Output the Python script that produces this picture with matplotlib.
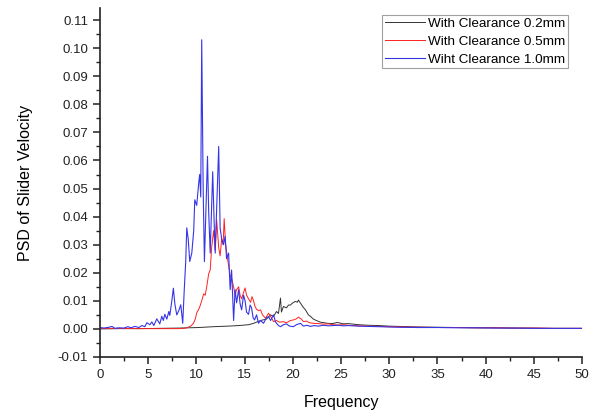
import matplotlib
matplotlib.use('Agg')
import matplotlib.pyplot as plt
from matplotlib.ticker import MultipleLocator, FormatStrFormatter

plt.rcParams['font.family'] = ['Liberation Sans', 'DejaVu Sans']
plt.rcParams['axes.unicode_minus'] = False

# frequency (Hz) and PSD values for each clearance
freq_02 = [0, 2, 4, 6.1, 8.17, 10.24, 11.79, 13.34, 14.38, 15.41, 15.93, 16.65, 17.27, 17.69,
           18.0, 18.31, 18.51, 18.72, 18.82, 19.03, 19.34, 19.55, 19.75, 19.96, 20.27, 20.48,
           20.58, 20.79, 21.1, 21.31, 21.62, 21.82, 22.13, 22.44, 22.86, 23.27, 23.58, 24.1,
           24.62, 25.24, 25.75, 26.8, 27.8, 28.9, 29.9, 31, 33, 35, 37, 39, 41, 43, 45, 47,
           49, 50]
psd_02 = [0.0, 0.0001, 0.0001, 0.0002, 0.0003, 0.0005, 0.0008, 0.0010, 0.0012, 0.0015,
          0.0020, 0.0030, 0.0035, 0.0050, 0.0045, 0.0062, 0.0055, 0.0110, 0.0060, 0.0080,
          0.0075, 0.0085, 0.0085, 0.0092, 0.0098, 0.0095, 0.0103, 0.0092, 0.0076, 0.0068,
          0.0050, 0.0045, 0.0035, 0.0030, 0.0024, 0.0022, 0.0020, 0.0019, 0.0023, 0.0018,
          0.0019, 0.0015, 0.0013, 0.0012, 0.0010, 0.0009, 0.0007, 0.0006, 0.0005, 0.0004,
          0.0004, 0.0003, 0.0003, 0.0002, 0.0002, 0.0002]

freq_05 = [0, 2, 4, 6.1, 7.14, 8.17, 8.69, 9.0, 9.41, 9.69, 9.88, 10.03, 10.24, 10.38, 10.55,
           10.76, 10.91, 11.07, 11.27, 11.43, 11.58, 11.79, 11.95, 12.1, 12.31, 12.46, 12.62,
           12.77, 12.88, 13.03, 13.19, 13.34, 13.5, 13.65, 13.86, 14.01, 14.17, 14.38, 14.53,
           14.69, 14.89, 15.05, 15.2, 15.41, 15.62, 15.77, 15.93, 16.08, 16.24, 16.44, 16.65,
           16.86, 17.17, 17.48, 17.69, 18.0, 18.31, 18.62, 19.03, 19.34, 19.75, 20.06, 20.37,
           20.58, 20.89, 21.1, 21.41, 21.72, 22.13, 22.65, 23.17, 23.68, 24.2, 24.72, 25.24,
           25.75, 26.8, 27.8, 28.9, 29.9, 31, 33, 35, 37, 39, 41, 43, 45, 47, 49, 50]
psd_05 = [0.0002, 0.0002, 0.0001, 0.0001, 0.0001, 0.0001, 0.0002, 0.0004, 0.0010, 0.0020,
          0.0035, 0.0057, 0.0070, 0.0082, 0.0100, 0.0125, 0.0120, 0.0150, 0.0196, 0.0210,
          0.0290, 0.0350, 0.0280, 0.0389, 0.0290, 0.0260, 0.0320, 0.0300, 0.0393, 0.0300,
          0.0260, 0.0225, 0.0190, 0.0180, 0.0150, 0.0120, 0.0140, 0.0150, 0.0120, 0.0107,
          0.0130, 0.0146, 0.0120, 0.0107, 0.0095, 0.0115, 0.0100, 0.0080, 0.0070, 0.0065,
          0.0068, 0.0050, 0.0038, 0.0056, 0.0045, 0.0026, 0.0030, 0.0024, 0.0026, 0.0022,
          0.0030, 0.0032, 0.0036, 0.0042, 0.0035, 0.0026, 0.0028, 0.0022, 0.0020, 0.0019,
          0.0017, 0.0018, 0.0015, 0.0014, 0.0015, 0.0013, 0.0011, 0.0010, 0.0009, 0.0008,
          0.0007, 0.0006, 0.0005, 0.0005, 0.0004, 0.0004, 0.0003, 0.0003, 0.0002, 0.0002,
          0.0002]

freq_10 = [0, 0.41, 0.93, 1.24, 1.55, 1.96, 2.48, 2.9, 3.21, 3.62, 4.03, 4.34, 4.65, 4.86,
           5.17, 5.38, 5.58, 5.89, 6.2, 6.41, 6.57, 6.72, 6.93, 7.14, 7.24, 7.45, 7.61, 7.76,
           7.96, 8.17, 8.38, 8.58, 8.74, 8.89, 9.0, 9.15, 9.31, 9.52, 9.72, 9.83, 10.03, 10.24,
           10.34, 10.45, 10.55, 10.7, 10.83, 11.15, 11.27, 11.43, 11.69, 11.84, 11.95, 12.31,
           12.46, 12.62, 12.82, 12.98, 13.13, 13.34, 13.5, 13.65, 13.86, 14.01, 14.17, 14.38,
           14.53, 14.69, 14.89, 15.05, 15.2, 15.41, 15.57, 15.72, 15.88, 16.03, 16.24, 16.44,
           16.65, 16.96, 17.27, 17.48, 17.69, 18.0, 18.2, 18.51, 18.72, 19.03, 19.34, 19.65,
           20.06, 20.37, 20.79, 21.1, 21.46, 21.82, 22.24, 22.65, 23.17, 23.68, 24.2, 24.72,
           25.24, 25.75, 26.8, 27.8, 28.9, 29.9, 31, 33, 35, 37, 39, 41, 43, 45, 47, 49, 50]
psd_10 = [0.0005, 0.0003, 0.0006, 0.0009, 0.0002, 0.0004, 0.0003, 0.0008, 0.0004, 0.0009,
          0.0005, 0.0012, 0.0008, 0.0022, 0.0015, 0.0025, 0.0012, 0.0036, 0.0018, 0.0045,
          0.0030, 0.0052, 0.0035, 0.0062, 0.0048, 0.0100, 0.0145, 0.0090, 0.0050, 0.0065,
          0.0086, 0.0020, 0.0140, 0.0240, 0.0360, 0.0320, 0.0240, 0.0270, 0.0350, 0.0460,
          0.0440, 0.0520, 0.0550, 0.0470, 0.1030, 0.0500, 0.0240, 0.0615, 0.0420, 0.0270,
          0.0560, 0.0380, 0.0270, 0.0650, 0.0360, 0.0320, 0.0300, 0.0330, 0.0250, 0.0270,
          0.0140, 0.0210, 0.0030, 0.0140, 0.0093, 0.0140, 0.0090, 0.0068, 0.0120, 0.0100,
          0.0060, 0.0052, 0.0085, 0.0075, 0.0040, 0.0032, 0.0050, 0.0020, 0.0030, 0.0020,
          0.0040, 0.0044, 0.0030, 0.0050, 0.0025, 0.0012, 0.0008, 0.0015, 0.0018, 0.0010,
          0.0008, 0.0015, 0.0020, 0.0010, 0.0013, 0.0009, 0.0012, 0.0010, 0.0013, 0.0011,
          0.0012, 0.0013, 0.0011, 0.0012, 0.0010, 0.0009, 0.0008, 0.0007, 0.0006, 0.0005,
          0.0005, 0.0004, 0.0004, 0.0003, 0.0003, 0.0002, 0.0002, 0.0002, 0.0002]

labels = ['With Clearance 0.2mm', 'With Clearance 0.5mm', 'Wiht Clearance 1.0mm']

fig = plt.figure(figsize=(5.9, 4.13), dpi=100)
ax = fig.add_axes([0.1695, 0.1356, 0.817, 0.845])

ax.plot(freq_02, psd_02, color='#333333', lw=0.7, label=labels[0])
ax.plot(freq_05, psd_05, color='#ff2020', lw=0.7, label=labels[1])
ax.plot(freq_10, psd_10, color='#3535e8', lw=0.8, label=labels[2])

ax.set_xlim(0, 50)
ax.xaxis.set_major_locator(MultipleLocator(5))
ax.xaxis.set_minor_locator(MultipleLocator(2.5))
ax.yaxis.set_major_locator(MultipleLocator(0.01))
ax.yaxis.set_minor_locator(MultipleLocator(0.005))
ax.yaxis.set_major_formatter(FormatStrFormatter('%.2f'))
ax.set_ylim(-0.01, 0.1143)

ax.spines['top'].set_visible(False)
ax.spines['right'].set_visible(False)
for s in ['left', 'bottom']:
    ax.spines[s].set_linewidth(1.2)
    ax.spines[s].set_color('#222222')
ax.tick_params(which='major', direction='out', length=5, width=1.1, labelsize=9.5, colors='#222222')
ax.tick_params(which='minor', direction='out', length=3, width=1.0, colors='#222222')

ax.set_xlabel('Frequency', fontsize=11.5, labelpad=10)
ax.set_ylabel('PSD of Slider Velocity', fontsize=11.5, labelpad=18)

leg = ax.legend(loc='upper right', bbox_to_anchor=(0.97, 0.98), fontsize=9.7,
                frameon=True, fancybox=False, handlelength=3.0, handletextpad=0.2,
                borderpad=0.2, labelspacing=0.4, borderaxespad=0)
leg.get_frame().set_edgecolor('#888888')
leg.get_frame().set_linewidth(0.8)

plt.savefig('out.png', dpi=100)
